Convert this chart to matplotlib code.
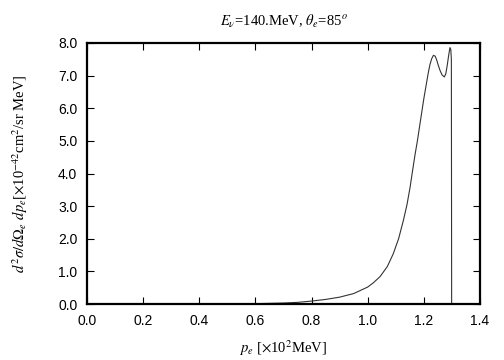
import matplotlib
matplotlib.use("Agg")
import matplotlib.pyplot as plt

# data
p_e = [0.50, 0.55, 0.60, 0.65, 0.70, 0.75, 0.80, 0.85, 0.90, 0.95, 1.00, 1.02, 1.044,
       1.07, 1.091, 1.11, 1.127, 1.14, 1.151, 1.16, 1.169, 1.177, 1.184, 1.192, 1.20,
       1.21, 1.216, 1.222, 1.228, 1.234, 1.240, 1.245, 1.252, 1.258, 1.265, 1.273,
       1.278, 1.283, 1.288, 1.293, 1.296, 1.298, 1.299]
xsec = [0.0, 0.005, 0.01, 0.02, 0.03, 0.05, 0.09, 0.14, 0.21, 0.32, 0.52, 0.65, 0.84,
        1.15, 1.54, 2.0, 2.56, 3.05, 3.58, 4.1, 4.6, 5.0, 5.4, 5.85, 6.3,
        6.8, 7.1, 7.35, 7.52, 7.62, 7.6, 7.5, 7.3, 7.15, 7.02, 6.96,
        7.05, 7.3, 7.6, 7.86, 7.8, 7.5, 0.0]

xticks = [0.0, 0.2, 0.4, 0.6, 0.8, 1.0, 1.2, 1.4]
yticks = [0.0, 1.0, 2.0, 3.0, 4.0, 5.0, 6.0, 7.0, 8.0]

plt.rcParams['mathtext.fontset'] = 'stix'

fig = plt.figure(figsize=(5.04, 3.60), dpi=100)
ax = fig.add_axes([87/504, 56/360, 393/504, 261/360])
ax.plot(p_e, xsec, color='#333333', lw=0.8)
ax.set_xlim(0, 1.4)
ax.set_ylim(0, 8.0)
ax.set_xticks(xticks)
ax.set_yticks(yticks)
ax.set_xticklabels([f"{v:.1f}" for v in xticks], family='Liberation Sans', fontsize=10)
ax.set_yticklabels([f"{v:.1f}" for v in yticks], family='Liberation Sans', fontsize=10)
ax.tick_params(direction='in', length=5, width=0.8, top=True, right=True, pad=7)
for s in ax.spines.values():
    s.set_linewidth(1.6)

ax.set_title(r"$E_\nu$=140.MeV, $\theta_e$=85$^o$", family='Liberation Serif', fontsize=10.5, pad=12)
ax.set_xlabel(r"$p_e$ [$\times$10$^2$MeV]", family='Liberation Serif', fontsize=10.5, labelpad=8)
ax.set_ylabel(r"$d^2\sigma/d\Omega_e\ dp_e$[$\times$10$^{-42}$cm$^2$/sr MeV]", family='Liberation Serif', fontsize=10.5, labelpad=20)

fig.savefig("out.png", dpi=100)
